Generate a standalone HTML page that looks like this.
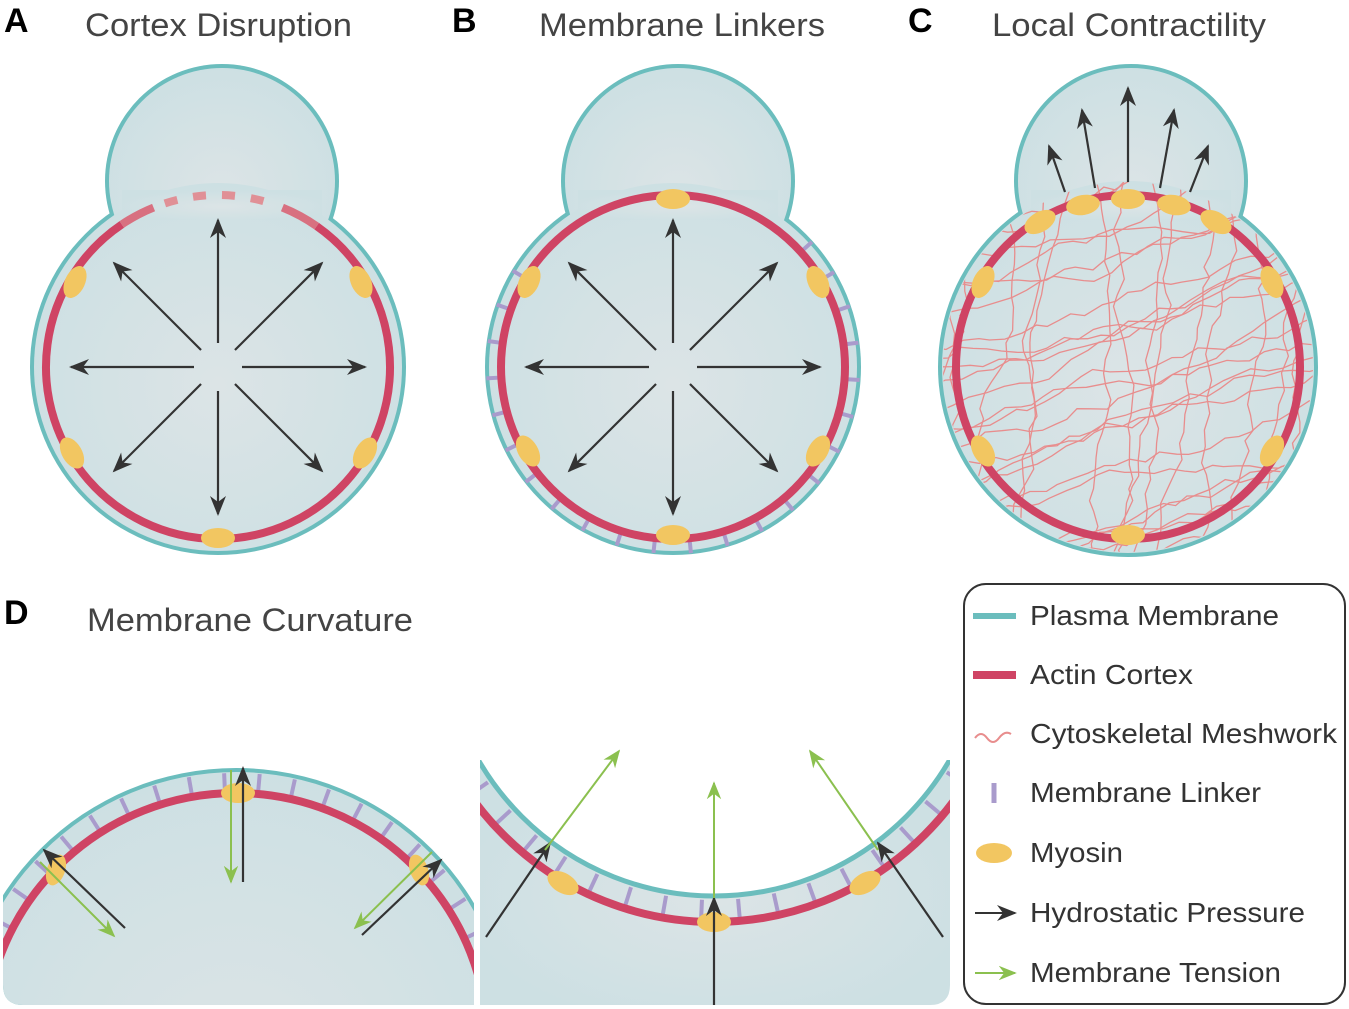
<!DOCTYPE html>
<html><head><meta charset="utf-8"><style>
html,body{margin:0;padding:0;background:#fff;width:1349px;height:1009px;overflow:hidden;}
svg{display:block;font-family:"Liberation Sans",sans-serif;overflow:hidden;}
</style></head><body>
<svg id="s" width="1349" height="1009" viewBox="0 0 1349 1009" xmlns="http://www.w3.org/2000/svg">
<defs>
<radialGradient id="g" cx="50%" cy="55%" r="55%"><stop offset="0" stop-color="#dce4e6"/><stop offset="1" stop-color="#cde0e3"/></radialGradient>
<marker id="akb" viewBox="0 0 10 10" refX="9" refY="5" markerWidth="20" markerHeight="20" orient="auto" markerUnits="userSpaceOnUse"><path d="M0,1 L10,5 L0,9 L3,5z" fill="#333"/></marker>
<marker id="ag" viewBox="0 0 10 10" refX="9" refY="5" markerWidth="18" markerHeight="18" orient="auto" markerUnits="userSpaceOnUse"><path d="M0,1 L10,5 L0,9 L3,5z" fill="#8bc04f"/></marker>
<clipPath id="cC"><circle cx="1128" cy="367" r="185"/></clipPath>
<clipPath id="dL"><path d="M3,760 H474 V1005 H23 Q3,1005 3,985Z"/></clipPath>
<clipPath id="dR"><path d="M480,760 H950 V985 Q950,1005 930,1005 H480Z"/></clipPath>
</defs>
<g id="cells"></g>
<g id="dpanel"></g>
<g font-size="32" fill="#444">
<text x="4" y="32" font-weight="bold" fill="#000" font-size="34">A</text>
<text x="85" y="36" textLength="267" lengthAdjust="spacingAndGlyphs">Cortex Disruption</text>
<text x="452" y="32" font-weight="bold" fill="#000" font-size="34">B</text>
<text x="539" y="36" textLength="286" lengthAdjust="spacingAndGlyphs">Membrane Linkers</text>
<text x="908" y="32" font-weight="bold" fill="#000" font-size="34">C</text>
<text x="992" y="36" textLength="274" lengthAdjust="spacingAndGlyphs">Local Contractility</text>
<text x="4" y="624" font-weight="bold" fill="#000" font-size="34">D</text>
<text x="87" y="631" textLength="326" lengthAdjust="spacingAndGlyphs">Membrane Curvature</text>
</g>
<rect x="964" y="584" width="381" height="420" rx="22" fill="#fff" stroke="#333" stroke-width="2"/>
<g font-size="28" fill="#333">
<text x="1030" y="625" textLength="249" lengthAdjust="spacingAndGlyphs">Plasma Membrane</text>
<text x="1030" y="684" textLength="163" lengthAdjust="spacingAndGlyphs">Actin Cortex</text>
<text x="1030" y="743" textLength="307" lengthAdjust="spacingAndGlyphs">Cytoskeletal Meshwork</text>
<text x="1030" y="802" textLength="231" lengthAdjust="spacingAndGlyphs">Membrane Linker</text>
<text x="1030" y="862" textLength="93" lengthAdjust="spacingAndGlyphs">Myosin</text>
<text x="1030" y="922" textLength="275" lengthAdjust="spacingAndGlyphs">Hydrostatic Pressure</text>
<text x="1030" y="982" textLength="251" lengthAdjust="spacingAndGlyphs">Membrane Tension</text>
</g>
<line x1="973" y1="616" x2="1016" y2="616" stroke="#6bbdbd" stroke-width="6"/>
<line x1="973" y1="675" x2="1016" y2="675" stroke="#cf4464" stroke-width="8"/>
<path d="M975,738 q6,-8 12,0 t12,0 t12,-4" fill="none" stroke="#e88d8d" stroke-width="2"/>
<line x1="994" y1="783" x2="994" y2="803" stroke="#a99bcc" stroke-width="5"/>
<ellipse cx="994" cy="853" rx="18" ry="10" fill="#f2c661"/>
<line x1="975" y1="913" x2="1015" y2="913" stroke="#333" stroke-width="2" marker-end="url(#akb)"/>
<line x1="975" y1="973" x2="1015" y2="973" stroke="#8bc04f" stroke-width="2" marker-end="url(#ag)"/>
</svg>
<script>
var out="";
function myo(x,y,rot,rx,ry){rx=rx||17;ry=ry||10;return '<ellipse cx="'+x+'" cy="'+y+'" rx="'+rx+'" ry="'+ry+'" fill="#f2c661" transform="rotate('+rot+' '+x+' '+y+')"/>';}
function pt(cx,cy,r,a){a=a*Math.PI/180;return [cx+r*Math.cos(a),cy+r*Math.sin(a)];}
function ar(x1,y1,x2,y2,m,c,w){return '<line x1="'+x1+'" y1="'+y1+'" x2="'+x2+'" y2="'+y2+'" stroke="'+c+'" stroke-width="'+(w||2.2)+'" marker-end="url(#'+m+')"/>';}
function cell(cx,bx,R){
 var s='<circle cx="'+bx+'" cy="181" r="117" fill="#6bbdbd"/><circle cx="'+cx+'" cy="367" r="'+(R+4)+'" fill="#6bbdbd"/>';
 s+='<circle cx="'+bx+'" cy="181" r="113" fill="url(#g)"/><circle cx="'+cx+'" cy="367" r="'+R+'" fill="url(#g)"/>';
 s+='<rect x="'+(bx-100)+'" y="190" width="200" height="30" fill="url(#g)"/>';
 return s;
}
out+=cell(218,222,184);
out+='<path d="M'+pt(218,367,172,-124).join(',')+' A172,172 0 1 0 '+pt(218,367,172,-55).join(',')+'" fill="none" stroke="#cf4464" stroke-width="8"/>';
out+='<path d="M'+pt(218,367,172,-124).join(',')+' A172,172 0 0 1 '+pt(218,367,172,-112).join(',')+'" fill="none" stroke="#d87080" stroke-width="8"/>';
out+='<path d="M'+pt(218,367,172,-68).join(',')+' A172,172 0 0 1 '+pt(218,367,172,-55).join(',')+'" fill="none" stroke="#d87080" stroke-width="8"/>';
out+='<path d="M'+pt(218,367,172,-108).join(',')+' A172,172 0 0 1 '+pt(218,367,172,-72).join(',')+'" fill="none" stroke="#e09096" stroke-width="8" stroke-dasharray="13,16"/>';
out+=myo(75,282,-65)+myo(361,282,65)+myo(72,453,60)+myo(365,453,-60)+myo(218,538,0);
function star(cx){var s="";for(var k=0;k<8;k++){var a=k*45;var p1=pt(cx,367,24,a),p2=pt(cx,367,147,a);s+=ar(p1[0],p1[1],p2[0],p2[1],"akb","#333",2.2);}return s;}
out+=star(218);
out+=cell(673,678,184);
for(var a=-42;a<=222;a+=11.5){var p1=pt(673,367,173,a),p2=pt(673,367,187,a);out+='<line x1="'+p1[0]+'" y1="'+p1[1]+'" x2="'+p2[0]+'" y2="'+p2[1]+'" stroke="#a99bcc" stroke-width="4"/>';}
out+='<circle cx="673" cy="367" r="172" fill="none" stroke="#cf4464" stroke-width="8"/>';
out+=myo(673,199,0)+myo(529,282,-65)+myo(818,282,65)+myo(528,451,60)+myo(818,451,-60)+myo(673,535,0);
out+=star(673);
out+=cell(1128,1131,186);
var mesh="";var seed=7;function rnd(){seed=(seed*9301+49297)%233280;return seed/233280;}
for(var y=140;y<720;y+=17){var d="M920,"+y;var x=920,yy=y;while(x<1340){x+=10+rnd()*8;yy+=-4+(rnd()-0.5)*14;d+=" L"+x.toFixed(1)+","+yy.toFixed(1);}mesh+='<path d="'+d+'" fill="none" stroke="#e88d8d" stroke-width="1.3"/>';}
for(var x0=900;x0<1360;x0+=28){var d="M"+x0+",180";var x=x0,yy=180;while(yy<570){yy+=10+rnd()*8;x+=(rnd()-0.6)*14;d+=" L"+x.toFixed(1)+","+yy.toFixed(1);}mesh+='<path d="'+d+'" fill="none" stroke="#e88d8d" stroke-width="1.3"/>';}
out+='<g clip-path="url(#cC)">'+mesh+'</g>';
out+='<circle cx="1128" cy="367" r="172" fill="none" stroke="#cf4464" stroke-width="8"/>';
out+=myo(1128,199,0)+myo(1083,205,-10)+myo(1174,205,10)+myo(1040,222,-30)+myo(1216,222,30)+myo(983,282,-65)+myo(1272,282,65)+myo(983,451,60)+myo(1272,451,-60)+myo(1128,535,0);
out+=ar(1128,182,1128,88,"akb","#333")+ar(1095,188,1082,110,"akb","#333")+ar(1160,188,1174,110,"akb","#333")+ar(1065,192,1049,146,"akb","#333")+ar(1190,192,1208,146,"akb","#333");
document.getElementById("cells").innerHTML=out;
var d="";
d+='<g clip-path="url(#dL)"><circle cx="236" cy="1045" r="277" fill="#6bbdbd"/><circle cx="236" cy="1045" r="273" fill="url(#g)"/>';
for(var a=-160;a<=-20;a+=7.5){var p1=pt(236,1045,254,a),p2=pt(236,1045,272,a);d+='<line x1="'+p1[0]+'" y1="'+p1[1]+'" x2="'+p2[0]+'" y2="'+p2[1]+'" stroke="#a99bcc" stroke-width="4"/>';}
d+='<circle cx="236" cy="1045" r="252" fill="none" stroke="#cf4464" stroke-width="8"/>';
d+=myo(238,793,0,17,10)+myo(56,870,-70,16,9)+myo(419,870,70,16,9);
d+=ar(243,882,243,768,"akb","#333")+ar(231,770,231,882,"ag","#8bc04f",2)+ar(125,928,44,850,"akb","#333")+ar(40,862,114,936,"ag","#8bc04f",2)+ar(362,935,441,860,"akb","#333")+ar(432,852,355,928,"ag","#8bc04f",2);
d+='</g>';
d+='<g clip-path="url(#dR)"><rect x="480" y="760" width="470" height="245" fill="url(#g)"/>';
for(var a=25;a<=155;a+=7.5){var p1=pt(714,624,276,a),p2=pt(714,624,296,a);d+='<line x1="'+p1[0]+'" y1="'+p1[1]+'" x2="'+p2[0]+'" y2="'+p2[1]+'" stroke="#a99bcc" stroke-width="4"/>';}
d+='<circle cx="714" cy="624" r="298" fill="none" stroke="#cf4464" stroke-width="8"/>';
d+='<circle cx="714" cy="624" r="272" fill="#fff" stroke="#6bbdbd" stroke-width="5"/>';
d+='</g>';
d+=myo(714,922,0,17,10)+myo(563,883,30,17,10)+myo(865,883,-30,17,10);
d+=ar(714,1005,714,898,"akb","#333")+ar(714,898,714,783,"ag","#8bc04f",2)+ar(486,937,550,843,"akb","#333")+ar(545,850,619,751,"ag","#8bc04f",2)+ar(943,937,878,843,"akb","#333")+ar(878,850,810,751,"ag","#8bc04f",2);
document.getElementById("dpanel").innerHTML=d;
</script>
</body></html>
